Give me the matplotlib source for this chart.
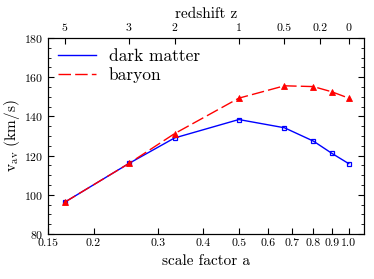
import matplotlib

matplotlib.use("Agg")
import matplotlib.pyplot as plt
from matplotlib.lines import Line2D
from matplotlib.ticker import MultipleLocator, NullLocator

plt.rcParams["font.family"] = "serif"
plt.rcParams["font.serif"] = ["cmr10", "DejaVu Serif"]
plt.rcParams["mathtext.fontset"] = "cm"
plt.rcParams["axes.formatter.use_mathtext"] = True

# scale factor of each snapshot
scale_a = [1 / 6, 0.25, 1 / 3, 0.5, 2 / 3, 0.8, 0.9, 1.0]
v_dark = [96.2, 116.0, 129.0, 138.4, 134.2, 127.4, 121.1, 115.9]
v_baryon = [96.2, 116.0, 131.2, 149.3, 155.6, 155.2, 152.5, 149.3]

bottom_ticks = [0.15, 0.2, 0.3, 0.4, 0.5, 0.6, 0.7, 0.8, 0.9, 1.0]
bottom_labels = ["0.15", "0.2", "0.3", "0.4", "0.5", "0.6", "0.7", "0.8", "0.9", "1.0"]
z_ticks = [5, 3, 2, 1, 0.5, 0.2, 0]
z_labels = ["5", "3", "2", "1", "0.5", "0.2", "0"]

dm_style = dict(color="blue", lw=1.0)
bar_style = dict(color="red", lw=1.0, ls=(0, (9, 3)))

fig = plt.figure(figsize=(3.74, 2.79), dpi=100)
ax = fig.add_axes([0.128, 0.161, 0.845, 0.703])

ax.plot(scale_a, v_dark, marker="s", ms=3.5, mfc="none", mew=0.9, **dm_style)
ax.plot(scale_a, v_baryon, marker="^", ms=4, mew=0.6, **bar_style)

ax.set_xscale("log")
ax.set_xlim(0.15, 1.1)
ax.set_ylim(80, 180)
ax.set_xticks(bottom_ticks)
ax.set_xticklabels(bottom_labels)
ax.xaxis.set_minor_locator(NullLocator())
ax.yaxis.set_major_locator(MultipleLocator(20))
ax.yaxis.set_minor_locator(MultipleLocator(5))
ax.tick_params(which="both", direction="in", right=True, labelsize=8.5)
ax.tick_params(which="major", length=4)
ax.tick_params(which="minor", length=2)
ax.set_xlabel("scale factor a", fontsize=11)
ax.set_ylabel(r"$\mathrm{v_{av}}$ (km/s)", fontsize=11, labelpad=1)

top = ax.twiny()
top.set_xscale("log")
top.set_xlim(ax.get_xlim())
top.set_xticks([1 / (1 + z) for z in z_ticks])
top.set_xticklabels(z_labels)
top.xaxis.set_minor_locator(NullLocator())
top.tick_params(direction="in", length=4, labelsize=8.5)
top.set_xlabel("redshift z", fontsize=11)

# legend shows plain lines, no markers
handles = [Line2D([], [], **dm_style), Line2D([], [], **bar_style)]
ax.legend(handles, ["dark matter", "baryon"], loc="upper left", frameon=False,
          fontsize=12.5, handlelength=2.2, borderaxespad=0.2, labelspacing=0.2,
          handletextpad=0.7)

fig.savefig("out.png", dpi=100)
